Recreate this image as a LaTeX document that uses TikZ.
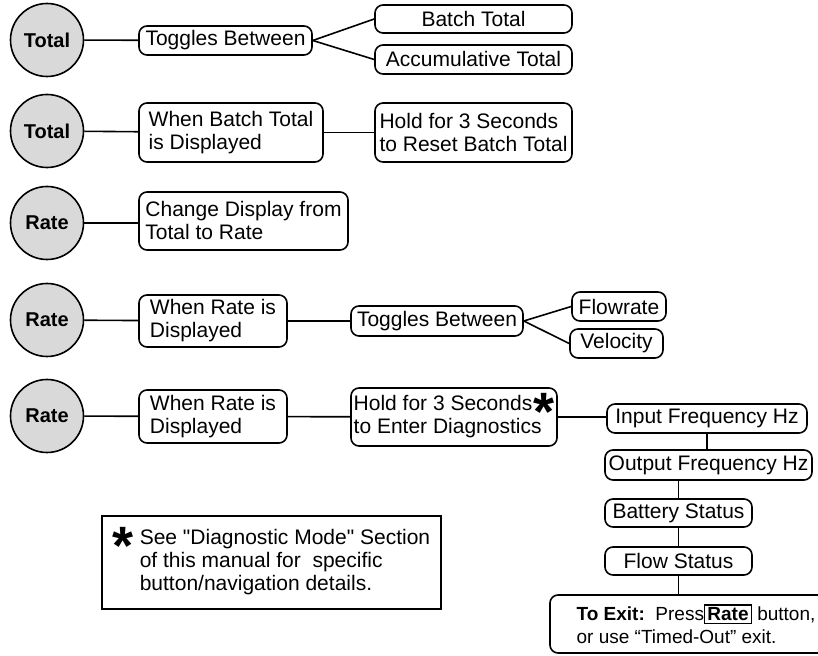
\documentclass[tikz,border=0pt]{standalone}
\usepackage{fontspec}
\setmainfont{Liberation Sans}
\usepackage{tikz}
\usetikzlibrary{positioning, calc}

\newcommand{\bigast}{\smash{\raisebox{-10pt}{\fontsize{27}{27}\selectfont\bfseries *}}}
\setlength{\fboxsep}{1pt}
\setlength{\fboxrule}{0.7pt}

\tikzset{
  btn/.style={draw, circle, fill=black!15, line width=0.8pt, minimum size=36.5pt, inner sep=0pt, font=\fontsize{10}{12}\selectfont\bfseries},
  msg/.style={draw, rounded corners=4pt, line width=0.8pt, inner sep=1pt, align=left, font=\fontsize{10.5}{11.5}\selectfont},
  link/.style={line width=0.8pt}
}

\begin{document}
\begin{tikzpicture}[x=0.5pt, y=-0.5pt]
					\useasboundingbox (0,0) rectangle (818,656);

					% row 1
					\node[btn] at (47, 40) (t1) {Total};
					\node[msg, minimum width=86.5pt, minimum height=14.5pt] at (225.5, 40.5) (tog1) {Toggles Between};
					\node[msg, minimum width=98.5pt, minimum height=14pt] at (473.5, 19) (batch) {Batch Total};
					\node[msg, minimum width=98.5pt, minimum height=14.5pt] at (473.5, 59.5) (accum) {Accumulative Total};

					% row 2
					\node[btn] at (47, 131) (t2) {Total};
					\node[msg, minimum width=92pt, minimum height=29.5pt] at (231, 132.5) (whenbatch) {When Batch Total\\is Displayed};
					\node[msg, minimum width=98.5pt, minimum height=29.5pt] at (473.5, 132.5) (hold1) {Hold for 3 Seconds\\to Reset Batch Total};

					% row 3
					\node[btn] at (47, 223) (r1) {Rate};
					\node[msg, minimum width=104.5pt, minimum height=29pt] at (243.5, 221) (change) {Change Display from\\Total to Rate};

					% row 4
					\node[btn] at (47, 320) (r2) {Rate};
					\node[msg, minimum width=74pt, minimum height=26pt] at (213, 321) (whenrate1) {When Rate is\\Displayed};
					\node[msg, minimum width=86pt, minimum height=15pt] at (437, 321) (tog2) {Toggles Between};
					\node[msg, minimum width=47pt, minimum height=14.5pt] at (619, 306.5) (flow) {Flowrate};
					\node[msg, minimum width=46.5pt, minimum height=14.5pt] at (616.5, 343.5) (vel) {Velocity};

					% row 5
					\node[btn] at (47, 416) (r3) {Rate};
					\node[msg, minimum width=74pt, minimum height=26.5pt] at (213, 416.5) (whenrate2) {When Rate is\\Displayed};
					\node[msg, minimum width=103pt, minimum height=29pt] at (454, 417) (hold2) {Hold for 3 Seconds\hspace{0.5pt}\bigast\\to Enter Diagnostics};
					\node[msg, minimum width=100pt, minimum height=14.5pt] at (707, 418.5) (input) {Input Frequency Hz};
					\node[msg, minimum width=103.5pt, minimum height=15pt] at (708.5, 465) (output) {Output Frequency Hz};
					\node[msg, minimum width=73.5pt, minimum height=14pt] at (678.5, 513) (battery) {Battery Status};
					\node[msg, minimum width=73.5pt, minimum height=14pt] at (678.5, 561) (flowstat) {Flow Status};
					\node[msg, minimum width=146pt, minimum height=29pt, font=\fontsize{9.5}{11.5}\selectfont] at (696, 624) (exit) {\textbf{To Exit:}\ \ Press\fbox{\textbf{Rate}} button,\\or use “Timed-Out” exit.};

					% footnote
					\node[msg, rounded corners=0pt, minimum width=169.5pt, minimum height=46.5pt] at (271.5, 562.5) (note) {\bigast\hspace{3pt}\begin{tabular}[t]{@{}l@{}}See \textquotedbl Diagnostic Mode\textquotedbl{} Section\\of this manual for\ \ specific\\button/navigation details.\end{tabular}};

					\draw[link]
					(t1) edge[-] (tog1)
					(tog1.east) edge[-] (batch.west)
					(tog1.east) edge[-] (accum.west)
					(t2) edge[-] (whenbatch)
					(whenbatch) edge[-] (hold1)
					(r1) edge[-] (r1 -| change.west)
					(r2) edge[-] (whenrate1)
					(whenrate1) edge[-] (tog2)
					(tog2.east) edge[-] (flow.west)
					(tog2.east) edge[-] (vel.west)
					(r3) edge[-] (whenrate2)
					(whenrate2) edge[-] (hold2)
					(hold2.east) edge[-] (hold2.east -| input.west)
					(input) edge[-] (input |- output.north)
					(output.south -| battery.north) edge[-] (battery.north)
					(battery) edge[-] (flowstat)
					(flowstat.south) edge[-] (flowstat.south |- exit.north);
				\end{tikzpicture}
\end{document}
